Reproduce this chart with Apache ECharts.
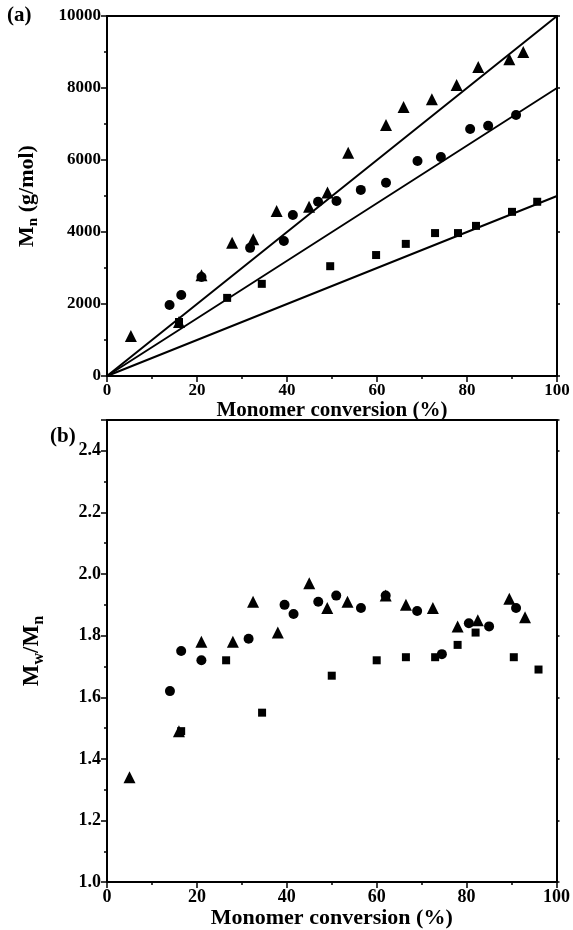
<!DOCTYPE html>
<html><head><meta charset="utf-8">
<script src="https://cdn.jsdelivr.net/npm/echarts@6/dist/echarts.min.js"></script>
<style>html,body{margin:0;padding:0;background:#fff}#c{width:573px;height:930px}</style>
</head><body><div id="c"></div>
<script>
// ---- Panel (a): Mn vs conversion ----
const aTriX = [5.3, 16, 21, 27.8, 32.5, 37.7, 44.9, 49, 53.6, 62, 65.9, 72.2, 77.7, 82.5, 89.4, 92.5];
const aTriY = [1110, 1500, 2800, 3700, 3800, 4580, 4700, 5100, 6200, 6970, 7470, 7690, 8080, 8580, 8800, 9000];
const aCirX = [13.9, 16.5, 21, 31.8, 39.3, 41.3, 46.9, 51, 56.4, 62, 69, 74.2, 80.7, 84.7, 90.9];
const aCirY = [1970, 2250, 2750, 3560, 3750, 4470, 4840, 4860, 5170, 5370, 5970, 6080, 6860, 6950, 7250];
const aSqX = [16, 26.7, 34.4, 49.6, 59.8, 66.4, 72.9, 78, 82, 90, 95.6];
const aSqY = [1500, 2170, 2560, 3050, 3360, 3670, 3970, 3970, 4170, 4560, 4840];
const fitX = [0, 100];
const fitTri = [0, 10000];
const fitCir = [0, 8000];
const fitSq = [0, 5000];
// ---- Panel (b): Mw/Mn vs conversion ----
const bTriX = [5, 16, 21, 28, 32.5, 38, 45, 49, 53.5, 62, 66.5, 72.5, 78, 82.5, 89.5, 93];
const bTriY = [1.34, 1.49, 1.78, 1.78, 1.91, 1.81, 1.97, 1.89, 1.91, 1.93, 1.90, 1.89, 1.83, 1.85, 1.92, 1.86];
const bCirX = [14, 16.5, 21, 31.5, 39.5, 41.5, 47, 51, 56.5, 62, 69, 74.5, 80.5, 85, 91];
const bCirY = [1.62, 1.75, 1.72, 1.79, 1.90, 1.87, 1.91, 1.93, 1.89, 1.93, 1.88, 1.74, 1.84, 1.83, 1.89];
const bSqX = [16.5, 26.5, 34.5, 50, 60, 66.5, 73, 78, 82, 90.5, 96];
const bSqY = [1.49, 1.72, 1.55, 1.67, 1.72, 1.73, 1.73, 1.77, 1.81, 1.73, 1.69];
const xTitle = 'Monomer conversion (%)';

const zip = (xs, ys) => xs.map((x, i) => [x, ys[i]]);
const FONT = '"Liberation Serif", "Times New Roman", serif';
const black = '#000';

function xAxisMain(gi, labelSize, nameSize, margin, nameGap) {
  return {
    gridIndex: gi, type: 'value', min: 0, max: 100, interval: 20,
    name: xTitle, nameLocation: 'middle', nameGap: nameGap,
    nameTextStyle: {fontFamily: FONT, fontWeight: 'bold', fontSize: nameSize, color: black},
    axisLine: {onZero: false, lineStyle: {color: black, width: 2}},
    axisTick: {inside: false, length: 6, lineStyle: {color: black, width: 1.5}},
    minorTick: {show: true, splitNumber: 2, length: 3, lineStyle: {color: black, width: 1.5}},
    axisLabel: {fontFamily: FONT, fontWeight: 'bold', fontSize: labelSize, color: black, margin: margin},
    splitLine: {show: false}
  };
}
function xAxisTop(gi) {
  return {
    gridIndex: gi, type: 'value', position: 'top', min: 0, max: 100, interval: 20,
    axisLine: {onZero: false, lineStyle: {color: black, width: 2}},
    axisTick: {show: false}, axisLabel: {show: false}, splitLine: {show: false}
  };
}
function yAxisRight(gi, min, max, interval) {
  return {
    gridIndex: gi, type: 'value', position: 'right', min: min, max: max, interval: interval,
    axisLine: {onZero: false, lineStyle: {color: black, width: 2}},
    axisTick: {show: true, inside: false, length: 3, lineStyle: {color: black, width: 1.5}},
    axisLabel: {show: false}, splitLine: {show: false}
  };
}
const richName = (size, sub) => ({
  fontFamily: FONT, fontWeight: 'bold', fontSize: size, color: black,
  rich: {a: {fontFamily: FONT, fontWeight: 'bold', fontSize: size, color: black},
         s: {fontFamily: FONT, fontWeight: 'bold', fontSize: sub, color: black, padding: [Math.round(sub * 0.8), 0, 0, 0]}}
});

const chart = echarts.init(document.getElementById('c'), null, {renderer: 'canvas'});
const sym = (type, size) => ({symbol: type, symbolSize: size, itemStyle: {color: black, opacity: 1}});

chart.setOption({
  animation: false,
  backgroundColor: '#fff',
  grid: [
    {left: 107, top: 16, width: 450, height: 360},
    {left: 107, top: 420, width: 450, height: 463}
  ],
  xAxis: [xAxisMain(0, 17, 21, 6, 21), xAxisTop(0), xAxisMain(1, 18, 22, 6, 21), xAxisTop(1)],
  yAxis: [
    {
      gridIndex: 0, type: 'value', min: 0, max: 10000, interval: 2000,
      name: '{a|M}{s|n}{a| (g/mol)}', nameLocation: 'middle', nameGap: 66,
      nameTextStyle: richName(22, 15),
      axisLine: {onZero: false, lineStyle: {color: black, width: 2}},
      axisTick: {length: 6, lineStyle: {color: black, width: 1.5}},
      minorTick: {show: true, splitNumber: 2, length: 3, lineStyle: {color: black, width: 1.5}},
      axisLabel: {fontFamily: FONT, fontWeight: 'bold', fontSize: 17, color: black, margin: 6,
        formatter: v => String(v)},
      splitLine: {show: false}
    },
    yAxisRight(0, 0, 10000, 2000),
    {
      gridIndex: 1, type: 'value', min: 1.0, max: 2.5, interval: 0.2,
      name: '{a|M}{s|w}{a|/M}{s|n}', nameLocation: 'middle', nameGap: 60,
      nameTextStyle: richName(23, 16),
      axisLine: {onZero: false, lineStyle: {color: black, width: 2}},
      axisTick: {length: 6, lineStyle: {color: black, width: 1.5}},
      minorTick: {show: true, splitNumber: 2, length: 3, lineStyle: {color: black, width: 1.5}},
      axisLabel: {fontFamily: FONT, fontWeight: 'bold', fontSize: 18, color: black, margin: 6,
        showMaxLabel: false, formatter: v => v.toFixed(1)},
      splitLine: {show: false}
    },
    yAxisRight(1, 1.0, 2.5, 0.2)
  ],
  graphic: [
    {type: 'text', left: 7, top: 5, style: {text: '(a)', font: 'bold 21px ' + FONT, fill: black}},
    {type: 'text', left: 50, top: 426, style: {text: '(b)', font: 'bold 21px ' + FONT, fill: black}}
  ],
  series: [
    {type: 'line', xAxisIndex: 0, yAxisIndex: 0, data: zip(fitX, fitTri), symbol: 'none', lineStyle: {color: black, width: 2}},
    {type: 'line', xAxisIndex: 0, yAxisIndex: 0, data: zip(fitX, fitCir), symbol: 'none', lineStyle: {color: black, width: 2}},
    {type: 'line', xAxisIndex: 0, yAxisIndex: 0, data: zip(fitX, fitSq), symbol: 'none', lineStyle: {color: black, width: 2}},
    Object.assign({type: 'scatter', xAxisIndex: 0, yAxisIndex: 0, data: zip(aTriX, aTriY)}, sym('triangle', 12)),
    Object.assign({type: 'scatter', xAxisIndex: 0, yAxisIndex: 0, data: zip(aCirX, aCirY)}, sym('circle', 10)),
    Object.assign({type: 'scatter', xAxisIndex: 0, yAxisIndex: 0, data: zip(aSqX, aSqY)}, sym('rect', 8)),
    Object.assign({type: 'scatter', xAxisIndex: 2, yAxisIndex: 2, data: zip(bTriX, bTriY)}, sym('triangle', 12)),
    Object.assign({type: 'scatter', xAxisIndex: 2, yAxisIndex: 2, data: zip(bCirX, bCirY)}, sym('circle', 10)),
    Object.assign({type: 'scatter', xAxisIndex: 2, yAxisIndex: 2, data: zip(bSqX, bSqY)}, sym('rect', 8))
  ]
});
</script></body></html>
